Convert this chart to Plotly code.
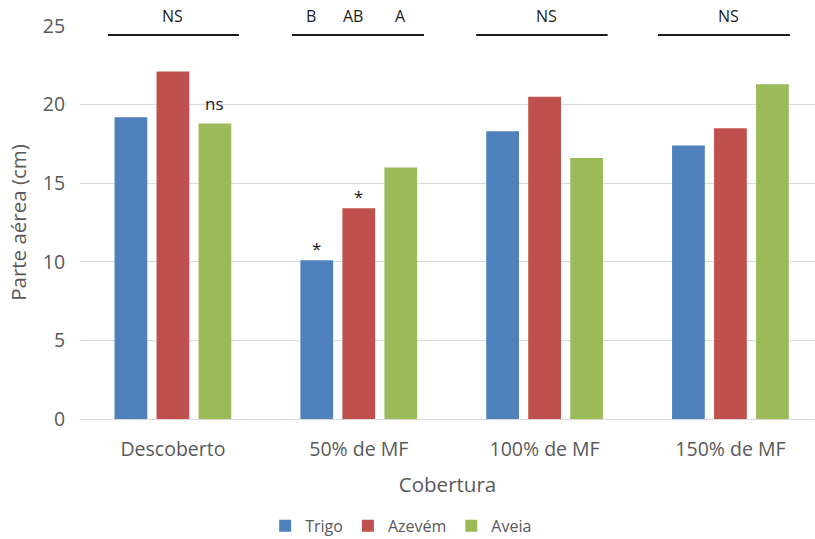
import plotly.graph_objects as go

# Categories and series values (cm)
categorias = ["Descoberto", "50% de MF", "100% de MF", "150% de MF"]
trigo = [19.2, 10.1, 18.3, 17.4]
azevem = [22.1, 13.4, 20.5, 18.5]
aveia = [18.8, 16.0, 16.6, 21.3]

series_nomes = ["Trigo", "Azevém", "Aveia"]
series_cores = ["#4F81BD", "#C0504D", "#9BBB59"]

# Significance letters above each group (label, x in category units)
letras_grupo = [("NS", 0.0), ("B", 0.742), ("AB", 0.969), ("A", 1.226),
                ("NS", 2.009), ("NS", 2.987)]
# Horizontal bars under the letters (start, end in category units)
barras_sig = [(-0.35, 0.355), (0.64, 1.351), (1.632, 2.339), (2.61, 3.32)]
NIVEL_BARRA = 24.43      # data units
NIVEL_LETRA = 1.0254     # paper units (just above the plot area)

# Marks placed over individual bars: (category index, series index, text)
marcas = [(1, 0, "*"), (1, 1, "*"), (0, 2, "ns")]

FONTE = "Open Sans"
CINZA = "#595959"
ESCURO = "#1a1a1a"

valores = [trigo, azevem, aveia]
fig = go.Figure()
for nome, cor, vals in zip(series_nomes, series_cores, valores):
    fig.add_trace(go.Bar(x=categorias, y=vals, name=nome,
                         marker=dict(color=cor, line=dict(width=0))))

BARGAP = 0.322
slot = (1 - BARGAP) / 3
for (ci, si, txt) in marcas:
    xpos = ci + (si - 1) * slot
    fig.add_annotation(x=xpos, y=valores[si][ci], text=txt, showarrow=False,
                       xref="x", yref="y", yanchor="bottom",
                       yshift=(6 if txt == "ns" else -2),
                       font=dict(family=FONTE, size=17, color=ESCURO))

for (txt, xpos) in letras_grupo:
    fig.add_annotation(x=xpos, y=NIVEL_LETRA, text=txt, showarrow=False,
                       xref="x", yref="paper", yanchor="middle",
                       font=dict(family=FONTE, size=16, color=ESCURO))

for (x0, x1) in barras_sig:
    fig.add_shape(type="line", xref="x", yref="y", x0=x0, x1=x1,
                  y0=NIVEL_BARRA, y1=NIVEL_BARRA,
                  line=dict(color=ESCURO, width=2))

fig.update_layout(
    width=815, height=539,
    margin=dict(l=80, r=0, t=26, b=120, autoexpand=False),
    paper_bgcolor="white", plot_bgcolor="white",
    barmode="group", bargap=BARGAP, bargroupgap=0.22,
    font=dict(family=FONTE, color=CINZA, size=18),
    showlegend=True,
    legend=dict(orientation="h", x=0.437, xanchor="center", y=-0.272,
                yanchor="middle", itemwidth=30,
                font=dict(family=FONTE, size=16, color=CINZA)),
)
fig.update_xaxes(
    type="category", range=[-0.5, 3.455], automargin=False,
    showgrid=False, showline=False, zeroline=False,
    ticks="outside", ticklen=13, tickcolor="rgba(0,0,0,0)",
    tickfont=dict(family=FONTE, size=19.5, color=CINZA),
    title=dict(text="Cobertura", font=dict(family=FONTE, size=20.5, color=CINZA),
               standoff=16),
)
fig.update_yaxes(
    range=[0, 25], dtick=5, tick0=0, automargin=False,
    showgrid=True, gridcolor="#D9D9D9", gridwidth=1,
    zeroline=True, zerolinecolor="#D9D9D9", zerolinewidth=1,
    showline=False,
    ticks="outside", ticklen=10, tickcolor="rgba(0,0,0,0)",
    tickfont=dict(family=FONTE, size=19.5, color=CINZA),
    title=dict(text="Parte aérea (cm)", font=dict(family=FONTE, size=20.5, color=CINZA),
               standoff=10),
)

fig.write_html("out.html")
